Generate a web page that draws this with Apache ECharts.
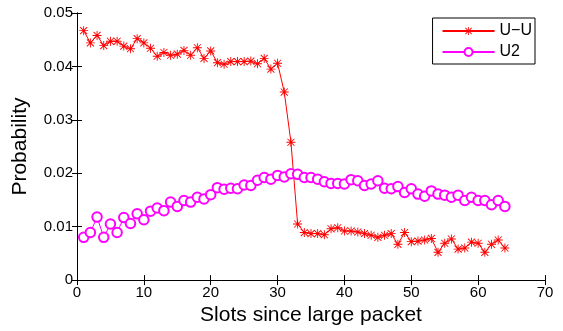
<!DOCTYPE html>
<html>
<head>
<meta charset="utf-8">
<script src="https://cdn.jsdelivr.net/npm/echarts@6/dist/echarts.min.js"></script>
<style>html,body{margin:0;padding:0;background:#fff;}#c{width:563px;height:331px;}</style>
</head>
<body>
<div id="c"></div>
<script>
var slots = [];
for (var i = 1; i <= 64; i++) slots.push(i);
var uuValues = [
  0.0467, 0.0444, 0.0458, 0.0439, 0.0447, 0.0447, 0.0438, 0.0433, 0.0452, 0.0444,
  0.0434, 0.0419, 0.0426, 0.0421, 0.0423, 0.0430, 0.0421, 0.0435, 0.0415, 0.0429,
  0.0407, 0.0404, 0.0409, 0.0409, 0.0409, 0.0410, 0.0405, 0.0415, 0.0395, 0.0406,
  0.0352, 0.0258, 0.0105, 0.0089, 0.0087, 0.0087, 0.0085, 0.0096, 0.0098, 0.0092,
  0.0092, 0.0090, 0.0087, 0.0084, 0.0080, 0.0084, 0.0087, 0.0067, 0.0089, 0.0072,
  0.0073, 0.0075, 0.0078, 0.0052, 0.0069, 0.0077, 0.0058, 0.0060, 0.0071, 0.0069,
  0.0052, 0.0067, 0.0075, 0.0060
];
var u2Values = [
  0.0080, 0.0089, 0.0118, 0.0080, 0.0105, 0.0089, 0.0117, 0.0106, 0.0124, 0.0113,
  0.0129, 0.0135, 0.0130, 0.0146, 0.0138, 0.0149, 0.0146, 0.0155, 0.0152, 0.0160,
  0.0173, 0.0170, 0.0172, 0.0171, 0.0178, 0.0177, 0.0187, 0.0192, 0.0189, 0.0196,
  0.0193, 0.0199, 0.0198, 0.0192, 0.0192, 0.0189, 0.0184, 0.0181, 0.0181, 0.0180,
  0.0188, 0.0186, 0.0177, 0.0180, 0.0186, 0.0172, 0.0171, 0.0175, 0.0164, 0.0171,
  0.0161, 0.0157, 0.0167, 0.0161, 0.0159, 0.0155, 0.0159, 0.0149, 0.0155, 0.0149,
  0.0149, 0.0141, 0.0149, 0.0138
];
var seriesNames = ['U\u2212U', 'U2'];

function pairs(vals) {
  return vals.map(function (v, i) { return [slots[i], v]; });
}

var asterisk = 'path://M9,0L11,0L11,20L9,20Z M0,9L20,9L20,11L0,11Z M2.9,1.5L18.5,17.1L17.1,18.5L1.5,2.9Z M17.1,1.5L18.5,2.9L2.9,18.5L1.5,17.1Z';
var font = 'Liberation Sans, Arial, Helvetica, sans-serif';
var axisLine = { show: true, lineStyle: { color: '#000', width: 1 } };
var tick = { show: true, inside: true, length: 5, lineStyle: { color: '#000' } };

var chart = echarts.init(document.getElementById('c'), null, { renderer: 'canvas' });
chart.setOption({
  animation: false,
  backgroundColor: '#fff',
  textStyle: { fontFamily: font },
  grid: { left: 77, right: 18, top: 13, bottom: 47, containLabel: false },
  legend: {
    orient: 'vertical',
    right: 28, top: 18,
    backgroundColor: '#fff',
    borderColor: '#000', borderWidth: 1, borderRadius: 0,
    padding: [5, 3, 4, 9],
    itemWidth: 52, itemHeight: 10, itemGap: 5,
    textStyle: { fontSize: 16, color: '#000', fontFamily: font },
    data: seriesNames
  },
  xAxis: [{
    type: 'value', min: 0, max: 70, interval: 10,
    name: 'Slots since large packet', nameLocation: 'middle', nameGap: 24,
    nameTextStyle: { fontSize: 21, color: '#000', fontFamily: font },
    axisLine: axisLine, axisTick: tick,
    axisLabel: { fontSize: 15, color: '#000', margin: 5, fontFamily: font },
    splitLine: { show: false }
  }, {
    type: 'value', min: 0, max: 70, interval: 10, position: 'top',
    axisLine: axisLine, axisTick: tick, axisLabel: { show: false }, splitLine: { show: false }
  }],
  yAxis: [{
    type: 'value', min: 0, max: 0.05, interval: 0.01,
    name: 'Probability', nameLocation: 'middle', nameGap: 46,
    nameTextStyle: { fontSize: 21, color: '#000', fontFamily: font },
    axisLine: axisLine, axisTick: tick,
    axisLabel: { fontSize: 15, color: '#000', margin: 4, fontFamily: font },
    splitLine: { show: false }
  }, {
    type: 'value', min: 0, max: 0.05, interval: 0.01, position: 'right',
    axisLine: axisLine, axisTick: tick, axisLabel: { show: false }, splitLine: { show: false }
  }],
  series: [{
    name: seriesNames[0], type: 'line', data: pairs(uuValues),
    symbol: asterisk, symbolSize: 9, showAllSymbol: true,
    lineStyle: { color: '#ff0000', width: 1 },
    itemStyle: { color: '#ff0000' }
  }, {
    name: seriesNames[1], type: 'line', data: pairs(u2Values),
    symbol: 'emptyCircle', symbolSize: 9.5, showAllSymbol: true,
    lineStyle: { color: '#ff00ff', width: 1 },
    itemStyle: { color: '#ff00ff', borderColor: '#ff00ff', borderWidth: 1 }
  }]
});
</script>
</body>
</html>
